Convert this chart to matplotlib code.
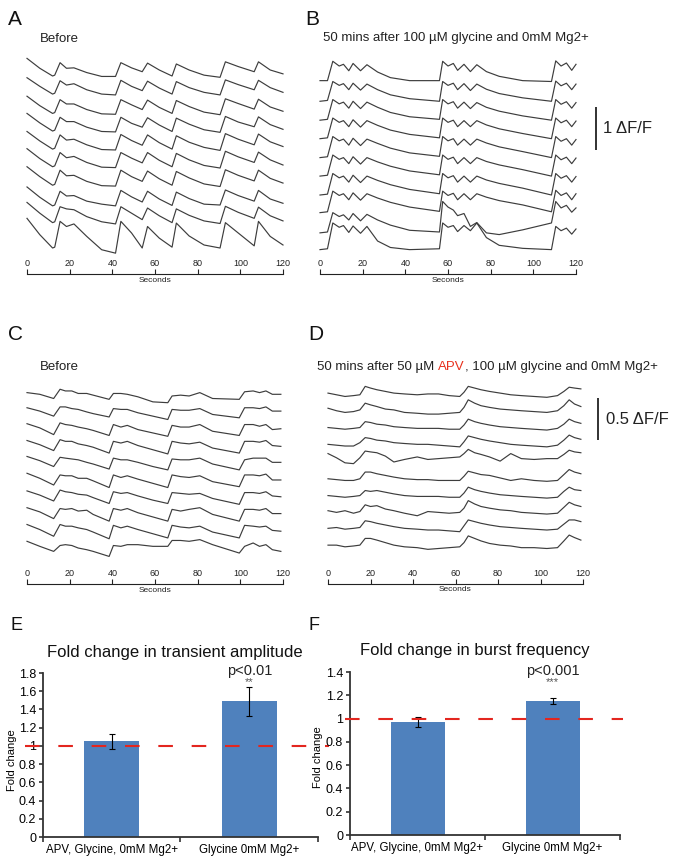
import matplotlib
matplotlib.use('Agg')
import matplotlib.pyplot as plt
import numpy as np
from matplotlib.ticker import FixedLocator, FuncFormatter

plt.rcParams['font.family'] = ['Liberation Sans', 'DejaVu Sans']

# ---------------- data (trace values in hundredths of dF/F) ----------------
sec_ticks = [0, 20, 40, 60, 80, 100, 120]

A_times = [0, 6, 12, 13, 15.5, 18.5, 22, 28, 35, 41.5, 44, 49, 54, 56.5, 62, 68, 70, 76, 83, 90.5, 93, 99, 106.5, 108.5, 114, 120]
A_offsets = [0, -0.43, -0.88, -1.30, -1.71, -2.13, -2.56, -3.05, -3.46, -4.09]
A_t1 = [44, 21, 3, 5, 34, 21, 22, 11, 2, 2, 34, 22, 13, 33, 17, 3, 31, 17, 5, 0, 36, 25, 13, 36, 17, 8]
A_t2 = [42, 22, 4, 6, 35, 25, 28, 14, 4, 2, 36, 22, 12, 34, 18, 4, 33, 19, 8, 2, 37, 26, 14, 36, 19, 8]
A_t3 = [44, 22, 4, 6, 36, 26, 26, 13, 3, 2, 36, 24, 13, 35, 18, 4, 34, 20, 7, 1, 38, 27, 14, 37, 19, 9]
A_t4 = [46, 24, 5, 7, 37, 27, 27, 14, 4, 3, 37, 23, 14, 36, 19, 4, 35, 21, 8, 2, 39, 26, 15, 38, 20, 9]
A_t5 = [45, 23, 4, 6, 37, 25, 27, 14, 3, 2, 38, 24, 13, 37, 19, 4, 35, 20, 8, 1, 40, 27, 14, 39, 21, 10]
A_t6 = [47, 24, 5, 7, 38, 26, 29, 15, 4, 3, 38, 25, 14, 38, 20, 5, 36, 21, 8, 2, 41, 28, 15, 39, 21, 9]
A_t7 = [48, 25, 5, 7, 40, 27, 28, 14, 4, 3, 40, 25, 14, 38, 20, 5, 37, 22, 8, 2, 41, 28, 15, 40, 21, 10]
A_t8 = [50, 26, 6, 8, 40, 29, 30, 17, 10, 6, 42, 27, 15, 40, 22, 7, 38, 23, 10, 8, 43, 30, 17, 42, 22, 12]
A_t9 = [55, 30, 8, 10, 45, 40, 38, 22, 10, 5, 45, 30, 15, 42, 24, 8, 40, 25, 12, 6, 46, 32, 18, 44, 24, 12]
A_t10 = [81, 43, 12, 14, 74, 62, 68, 39, 8, 0, 74, 47, 12, 62, 35, 14, 70, 40, 19, 12, 71, 47, 17, 74, 39, 19]

B_times = [0, 3.5, 6, 9, 11, 13.5, 15.5, 19, 22, 27, 33, 42, 56, 57.5, 60, 62.5, 64.5, 67.5, 70.5, 73.5, 78, 84, 95, 108.5, 110.5, 113, 115.5, 118, 120]
B_offsets = [0, -0.46, -0.90, -1.33, -1.77, -2.20, -2.64, -3.05, -3.52, -3.91]
B_t1 = [2, 2, 47, 36, 40, 25, 42, 25, 39, 22, 9, 2, 2, 47, 36, 42, 26, 40, 23, 39, 23, 12, 2, 0, 48, 36, 43, 26, 40]
B_t2 = [0, 2, 46, 37, 41, 27, 42, 26, 40, 27, 15, 6, 0, 46, 37, 42, 27, 41, 25, 40, 28, 18, 8, 0, 47, 36, 42, 27, 40]
B_t3 = [0, 2, 48, 38, 42, 28, 44, 27, 42, 30, 18, 8, 2, 48, 38, 43, 28, 42, 27, 41, 30, 21, 10, 0, 48, 37, 43, 28, 41]
B_t4 = [0, 2, 48, 38, 42, 28, 44, 27, 42, 31, 20, 10, 2, 48, 38, 43, 28, 42, 28, 42, 32, 23, 12, 0, 48, 37, 43, 28, 41]
B_t5 = [0, 2, 49, 39, 43, 29, 45, 28, 43, 33, 22, 11, 3, 49, 39, 44, 29, 43, 29, 43, 34, 25, 14, 0, 49, 38, 44, 29, 42]
B_t6 = [0, 2, 49, 39, 43, 29, 45, 28, 43, 33, 23, 12, 3, 49, 39, 44, 29, 43, 29, 43, 34, 26, 15, 0, 49, 38, 44, 29, 42]
B_t7 = [0, 2, 50, 40, 44, 30, 46, 29, 44, 34, 24, 13, 3, 50, 40, 45, 30, 44, 30, 44, 35, 27, 16, 0, 50, 39, 45, 30, 43]
B_t8 = [0, 2, 50, 40, 44, 30, 46, 29, 44, 34, 24, 13, 3, 50, 40, 45, 30, 44, 30, 44, 36, 28, 18, 2, 52, 40, 46, 30, 44]
B_t9 = [0, 2, 47, 38, 42, 30, 45, 28, 43, 30, 18, 6, 2, 73, 60, 53, 40, 45, 15, 24, 0, -4, 7, 23, 73, 58, 64, 48, 58]
B_t10 = [0, 2, 62, 52, 56, 40, 55, 38, 54, 20, 5, 0, 2, 62, 52, 56, 42, 56, 44, 62, 28, 10, 3, 0, 54, 44, 50, 36, 48]

C_times = [0, 6, 12.5, 15.5, 18, 21, 24, 28, 31, 38.5, 40.5, 44, 47, 52, 59, 66, 68, 72, 76, 81, 87, 99.5, 102, 106, 109, 112, 115, 119]
C_offsets = [0, -0.20, -0.41, -0.61, -0.81, -1.02, -1.22, -1.43, -1.63, -1.83]
C_t1 = [12, 10, 5, 16, 14, 14, 11, 11, 9, 4, 11, 11, 10, 7, 1, 0, 8, 9, 8, 12, 5, 4, 13, 14, 12, 14, 10, 10]
C_t2 = [14, 10, 4, 15, 15, 13, 12, 9, 7, 3, 13, 12, 12, 8, 4, 0, 12, 11, 11, 13, 6, 2, 14, 14, 13, 15, 10, 10]
C_t3 = [16, 11, 3, 17, 15, 14, 12, 10, 8, 2, 15, 12, 14, 9, 5, 1, 14, 12, 12, 15, 7, 2, 15, 15, 13, 15, 9, 10]
C_t4 = [16, 11, 4, 17, 15, 15, 12, 10, 8, 1, 15, 13, 15, 10, 5, 0, 15, 13, 12, 14, 7, 1, 15, 15, 14, 16, 10, 9]
C_t5 = [17, 12, 5, 16, 15, 14, 13, 10, 8, 2, 15, 13, 13, 10, 5, 1, 14, 13, 13, 15, 8, 1, 13, 15, 15, 15, 10, 10]
C_t6 = [18, 12, 4, 16, 15, 15, 12, 12, 9, 1, 16, 13, 15, 11, 6, 1, 16, 14, 13, 15, 8, 2, 16, 16, 15, 17, 10, 10]
C_t7 = [17, 12, 5, 18, 16, 15, 13, 12, 9, 2, 16, 14, 15, 11, 6, 2, 15, 14, 13, 14, 8, 1, 15, 15, 14, 16, 11, 10]
C_t8 = [18, 13, 5, 17, 16, 17, 14, 15, 10, 2, 17, 15, 17, 12, 7, 2, 16, 14, 16, 18, 10, 2, 16, 16, 15, 17, 11, 11]
C_t9 = [18, 12, 4, 18, 16, 16, 14, 12, 9, 1, 17, 14, 16, 12, 7, 2, 17, 15, 14, 16, 9, 2, 17, 16, 15, 16, 11, 10]
C_t10 = [18, 12, 6, 13, 14, 13, 10, 8, 6, 0, 13, 12, 14, 14, 12, 12, 19, 19, 18, 20, 14, 4, 12, 16, 12, 14, 8, 6]

D_times = [0, 4, 8, 12, 15, 17.5, 20, 23, 27, 31, 36, 42, 47, 52, 57, 62, 64, 66, 69, 72, 76, 81, 86, 91, 97, 103, 108, 111, 113.5, 116, 119]
D_offsets = [0, -0.20, -0.40, -0.60, -0.80, -1.01, -1.21, -1.41, -1.61, -1.81]
D_t1 = [5, 3, 1, 2, 3, 13, 11, 9, 7, 5, 4, 3, 4, 4, 2, 1, 6, 13, 11, 9, 7, 5, 3, 2, 1, 0, 2, 7, 12, 11, 10]
D_t2 = [7, 4, 2, 3, 5, 13, 11, 9, 6, 5, 2, 1, 0, 0, 1, 2, 8, 17, 13, 10, 8, 6, 5, 4, 3, 2, 4, 10, 17, 12, 9]
D_t3 = [4, 3, 2, 3, 4, 11, 10, 8, 7, 5, 4, 3, 3, 3, 2, 2, 7, 14, 11, 9, 7, 5, 4, 3, 2, 1, 3, 8, 14, 11, 9]
D_t4 = [4, 3, 2, 2, 6, 12, 11, 9, 8, 6, 5, 4, 4, 3, 2, 1, 7, 14, 12, 10, 8, 6, 4, 3, 2, 1, 3, 9, 15, 12, 10]
D_t5 = [13, 8, 2, 1, 8, 16, 15, 14, 10, 3, 6, 9, 6, 7, 8, 9, 13, 18, 14, 12, 9, 4, 13, 7, 6, 7, 7, 12, 17, 15, 14]
D_t6 = [4, 3, 2, 2, 4, 12, 12, 10, 8, 6, 4, 3, 3, 2, 2, 2, 7, 13, 11, 9, 8, 5, 2, 4, 2, 1, 2, 9, 15, 12, 10]
D_t7 = [4, 3, 2, 3, 4, 10, 9, 10, 8, 6, 4, 3, 3, 3, 2, 2, 7, 14, 11, 9, 7, 5, 4, 3, 2, 1, 2, 9, 14, 11, 10]
D_t8 = [6, 4, 6, 3, 5, 13, 11, 12, 8, 6, 3, 0, 5, 4, 3, 4, 9, 18, 14, 11, 9, 7, 6, 4, 3, 2, 3, 10, 16, 13, 11]
D_t9 = [5, 6, 4, 5, 6, 14, 13, 11, 9, 7, 5, 4, 3, 3, 2, 1, 8, 15, 13, 11, 9, 7, 6, 5, 4, 3, 4, 10, 15, 15, 13]
D_t10 = [5, 5, 3, 4, 5, 13, 13, 11, 8, 5, 3, 2, 0, 1, 2, 3, 8, 16, 13, 10, 7, 5, 4, 2, 2, 1, 2, 10, 17, 14, 11]

categories = ["APV, Glycine, 0mM Mg2+", "Glycine 0mM Mg2+"]
amp_mean = [1.05, 1.49]
amp_err = [0.08, 0.16]
freq_mean = [0.97, 1.15]
freq_err = [0.04, 0.025]

# ---------------- layout helpers ----------------
W, H = 683, 863
fig = plt.figure(figsize=(W / 100, H / 100), dpi=100)
TRACE_C = '#3d3d3d'


def rect(l, t, r, b):
    return [l / W, 1 - b / H, (r - l) / W, (b - t) / H]


def fy(px):
    return 1 - px / H


def trace_panel(times, traces, offsets, xl, xr, top, bot, ppu, base1_px, axis_y):
    ax = fig.add_axes(rect(xl, top, xr, bot))
    v_top = (base1_px - top) / ppu
    ax.set_xlim(0, 120)
    ax.set_ylim(v_top - (bot - top) / ppu, v_top)
    ax.axis('off')
    for vals, off in zip(traces, offsets):
        ax.plot(times, np.array(vals) / 100.0 + off, color=TRACE_C, lw=0.85,
                solid_joinstyle='round', clip_on=False)
    sa = fig.add_axes(rect(xl, axis_y - 4, xr, axis_y))
    sa.patch.set_visible(False)
    sa.set_xlim(0, 120)
    sa.set_ylim(0, 1)
    for s in ['top', 'left', 'right']:
        sa.spines[s].set_visible(False)
    sa.spines['bottom'].set_linewidth(0.8)
    sa.spines['bottom'].set_color('#222222')
    sa.set_yticks([])
    sa.set_xticks(sec_ticks)
    sa.tick_params(axis='x', direction='in', length=3.4, width=0.8, color='#222222',
                   bottom=True, top=False, labelbottom=False, labeltop=True,
                   labelsize=6.5, pad=1.2, labelcolor='#222222')
    sa.xaxis.set_label_position('bottom')
    sa.set_xlabel('Seconds', fontsize=6, labelpad=1.8, color='#222222')
    return ax, v_top


def px_to_data(px, v_top, top, ppu):
    return v_top - (px - top) / ppu


# ---------------- Panel A ----------------
A_traces = [A_t1, A_t2, A_t3, A_t4, A_t5, A_t6, A_t7, A_t8, A_t9, A_t10]
axA, _ = trace_panel(A_times, A_traces, A_offsets, 27, 283, 45, 262, 43, 77.3, 274)

# ---------------- Panel B ----------------
B_traces = [B_t1, B_t2, B_t3, B_t4, B_t5, B_t6, B_t7, B_t8, B_t9, B_t10]
axB, vB = trace_panel(B_times, B_traces, B_offsets, 320, 576, 45, 262, 43, 81.5, 274)
yb0 = px_to_data(150, vB, 45, 43)
xbar = (596 - 320) / 256 * 120
axB.plot([xbar, xbar], [yb0, yb0 + 1.0], color='#222222', lw=1.3, clip_on=False,
         solid_capstyle='butt')
axB.text((603 - 320) / 256 * 120, yb0 + 0.5, '1 \u0394F/F', fontsize=12,
         ha='left', va='center', color='#222222')

# ---------------- Panel C ----------------
C_traces = [C_t1, C_t2, C_t3, C_t4, C_t5, C_t6, C_t7, C_t8, C_t9, C_t10]
axC, _ = trace_panel(C_times, C_traces, C_offsets, 27, 283, 385, 572, 84, 402.7, 584)

# ---------------- Panel D ----------------
D_traces = [D_t1, D_t2, D_t3, D_t4, D_t5, D_t6, D_t7, D_t8, D_t9, D_t10]
axD, vD = trace_panel(D_times, D_traces, D_offsets, 328, 583, 385, 572, 84, 397.3, 583.5)
yd0 = px_to_data(440, vD, 385, 84)
xbar_d = (598 - 328) / 255 * 120
axD.plot([xbar_d, xbar_d], [yd0, yd0 + 0.5], color='#222222', lw=1.3, clip_on=False,
         solid_capstyle='butt')
axD.text((606 - 328) / 255 * 120, yd0 + 0.25, '0.5 \u0394F/F', fontsize=12,
         ha='left', va='center', color='#222222')

# ---------------- letters & titles ----------------
for lab, x, y, fs in [('A', 8, 25, 15), ('B', 305, 25, 15), ('C', 8, 340, 15),
                      ('D', 308, 340, 15), ('E', 10, 630, 13), ('F', 308, 630, 13)]:
    fig.text(x / W, fy(y), lab, fontsize=fs, ha='left', va='baseline', color='#111111')

fig.text(40 / W, fy(41.5), 'Before', fontsize=9.5, ha='left', va='baseline', color='#222222')
fig.text(40 / W, fy(370), 'Before', fontsize=9.5, ha='left', va='baseline', color='#222222')
fig.text(323 / W, fy(41), '50 mins after 100 \u00b5M glycine and 0mM Mg2+', fontsize=9.5,
         ha='left', va='baseline', color='#222222')

t1 = fig.text(317 / W, fy(370), '50 mins after 50 \u00b5M', fontsize=9.5,
              ha='left', va='baseline', color='#222222')
t2 = axD.annotate('APV', xy=(1, fy(370)), xycoords=(t1, 'figure fraction'),
                  xytext=(2.64, 0), textcoords='offset points', fontsize=9.5,
                  ha='left', va='baseline', color='#e8301c', annotation_clip=False)
axD.annotate(', 100 \u00b5M glycine and 0mM Mg2+', xy=(1, fy(370)),
             xycoords=(t2, 'figure fraction'), fontsize=9.5, ha='left', va='baseline',
             color='#222222', annotation_clip=False)


# ---------------- bar panels ----------------
def bar_panel(l, t, r, b, ymax, means, errs, xmin, xmax):
    ax = fig.add_axes(rect(l, t, r, b))
    x = np.arange(len(categories))
    ax.bar(x, means, width=0.4, color='#4f81bd', zorder=2,
           yerr=errs, error_kw=dict(ecolor='black', elinewidth=0.8, capsize=2.2, capthick=0.8, zorder=3))
    ax.set_xlim(-0.5, 1.5)
    ax.set_ylim(0, ymax)
    ax.yaxis.set_major_locator(FixedLocator(np.round(np.arange(0, ymax + 0.01, 0.2), 1)))
    ax.yaxis.set_major_formatter(FuncFormatter(lambda v, p: f'{v:g}'))
    ax.set_xticks([-0.5, 0.5, 1.5])
    ax.set_xticklabels([])
    ax.set_xticks(x, minor=True)
    ax.set_xticklabels(categories, minor=True)
    ax.tick_params(axis='x', which='minor', length=0, labelsize=8.3, pad=5)
    ax.tick_params(axis='x', which='major', length=3.5, width=1.2, color='#333333')
    ax.tick_params(axis='y', length=3, width=1.2, labelsize=9, pad=2, color='#333333')
    for s in ['top', 'right']:
        ax.spines[s].set_visible(False)
    for s in ['left', 'bottom']:
        ax.spines[s].set_linewidth(1.3)
        ax.spines[s].set_color('#333333')
    ax.axhline(1.0, xmin=xmin, xmax=xmax, color='#e3261f', lw=1.5, dashes=(7, 9),
               clip_on=False, zorder=4)
    return ax


axE = bar_panel(43, 673, 318, 837, 1.8, amp_mean, amp_err, -0.065, 1.04)
axE.text(1, 1.82, 'p<0.01', fontsize=10.5, ha='center', va='center', color='#222222')
axE.text(1, 1.695, '**', fontsize=8, ha='center', va='center', color='#555555')
fig.text(175 / W, fy(652), 'Fold change in transient amplitude', fontsize=12,
         ha='center', va='center', color='#111111')
fig.text(12 / W, fy(760), 'Fold change', fontsize=8, rotation=90, ha='center', va='center')

axF = bar_panel(350, 672, 620, 835, 1.4, freq_mean, freq_err, -0.02, 1.01)
axF.text(1, 1.41, 'p<0.001', fontsize=10.5, ha='center', va='center', color='#222222')
axF.text(1, 1.31, '***', fontsize=8, ha='center', va='center', color='#555555')
fig.text(475 / W, fy(650), 'Fold change in burst frequency', fontsize=12,
         ha='center', va='center', color='#111111')
fig.text(318 / W, fy(757), 'Fold change', fontsize=8, rotation=90, ha='center', va='center')

fig.savefig('out.png', dpi=100)
